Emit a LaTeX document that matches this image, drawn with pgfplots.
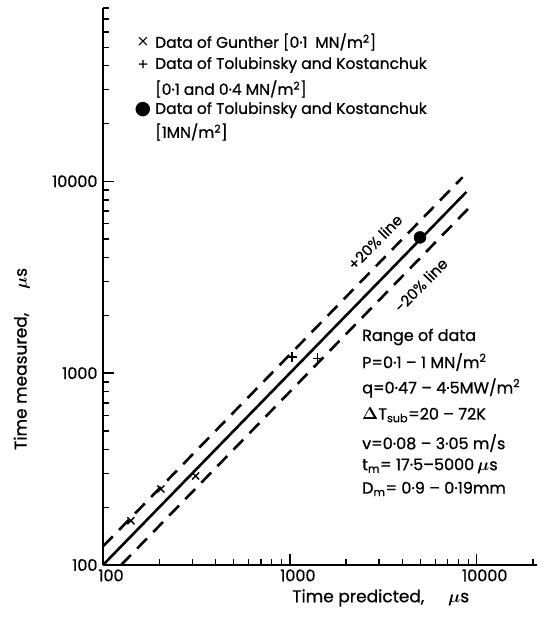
\documentclass[border=0pt]{standalone}
\usepackage{pgfplots}
\pgfplotsset{compat=1.18}
\usepackage{bm}
\usepackage{fontspec}
\setmainfont{Poppins}[FakeBold=0.8]
\newfontfamily\dejavu{DejaVu Sans}
\begin{document}
\begin{tikzpicture}[x=1pt,y=1pt]
\begin{axis}[
  at={(0,0)}, anchor=south west,
  scale only axis, width=434pt, height=557pt,
  xmode=log, ymode=log,
  xmin=100, xmax=21000, ymin=100, ymax=80000,
  axis lines=left, axis line style={-, line width=2pt},
  tick align=inside, major tick length=11pt, minor tick length=6pt,
  every tick/.style={line width=1.3pt, black},
  xtick={100,1000,10000}, ytick={100,1000,10000},
  minor xtick={200,300,400,500,600,700,800,900,2000,3000,4000,5000,6000,7000,8000,9000,20000},
  minor ytick={200,300,400,500,600,700,800,900,2000,3000,4000,5000,6000,7000,8000,9000,20000,30000,40000,50000,60000,70000,80000},
  xticklabels={100,1000,10000}, yticklabels={100,1000,10000},
  xticklabel style={font=\fontsize{16}{18}\selectfont, xshift=8pt, yshift=-1pt},
  yticklabel style={font=\fontsize{16}{18}\selectfont, xshift=-2pt},
  xlabel={Time predicted,\hspace{1.4em}$\bm{\mu}$s},
  ylabel={Time measured,\hspace{1.4em}$\bm{\mu}$s},
  xlabel style={at={(axis description cs:0.64,0)}, anchor=center, yshift=-33pt, font=\fontsize{17}{19}\selectfont},
  ylabel style={at={(axis description cs:-0.187,0.37)}, anchor=center, font=\fontsize{17}{19}\selectfont},
  clip=false,
]
\addplot[black, line width=2.6pt] coordinates {(100,100) (8800,8800)};
\addplot[black, line width=2.6pt, dash pattern=on 14pt off 9pt] coordinates {(100,125) (8400,10500)};
\addplot[black, line width=2.6pt, dash pattern=on 14pt off 9pt] coordinates {(125,100) (9000,7200)};
% Gunther
\addplot[only marks, mark=x, mark size=5pt, line width=1.5pt, black] coordinates {(141,170) (204,249) (313,291)};
% Tolubinsky and Kostanchuk 0.1 and 0.4
\addplot[only marks, mark=+, mark size=5pt, line width=1.5pt, black] coordinates {(1028,1216) (1406,1194)};
% Tolubinsky and Kostanchuk 1 MN/m2
\addplot[only marks, mark=*, mark size=6pt, black] coordinates {(4970,5100)};
\end{axis}
% legend block
\begin{scope}[every node/.style={font=\fontsize{15.5}{17}\selectfont, inner sep=0pt}]
\node at (40,523) {\dejavu ×};
\node[anchor=west] at (52,523) {Data of Gunther [0·1\enspace MN/m\textsuperscript{2}]};
\node at (40,500) {+};
\node[anchor=west] at (52,500) {Data of Tolubinsky and Kostanchuk};
\node[anchor=west] at (52,476) {[0·1 and 0·4 MN/m\textsuperscript{2}]};
\node at (40,455) {\dejavu\fontsize{19}{20}\selectfont ●};
\node[anchor=west] at (52,455) {Data of Tolubinsky and Kostanchuk};
\node[anchor=west] at (52,433) {[1MN/m\textsuperscript{2}]};
\end{scope}
\begin{scope}[every node/.style={font=\fontsize{15}{17}\selectfont, inner sep=0pt}]
% line labels
\node[rotate=45.7] at (272,323) {+20\% line};
\node[rotate=45.7] at (318,280) {-20\% line};
\end{scope}
\begin{scope}[every node/.style={font=\fontsize{16}{18}\selectfont, inner sep=0pt}]
% range of data
\node[anchor=west] at (259,228) {Range of data};
\node[anchor=west] at (259,203) {P=0·1 -- 1 MN/m\textsuperscript{2}};
\node[anchor=west] at (259,177) {q=0·47 -- 4·5MW/m\textsuperscript{2}};
\node[anchor=west] at (259,150) {$\bm{\Delta}$T\textsubscript{sub}=20 -- 72K};
\node[anchor=west] at (259,122) {v=0·08 -- 3·05 m/s};
\node[anchor=west] at (259,99) {t\textsubscript{m}= 17·5--5000$\,\bm{\mu}$s};
\node[anchor=west] at (259,76) {D\textsubscript{m}= 0·9 -- 0·19mm};
\end{scope}
\pgfresetboundingbox
\path[use as bounding box] (-103,-57) rectangle (447,565);
\end{tikzpicture}
\end{document}
